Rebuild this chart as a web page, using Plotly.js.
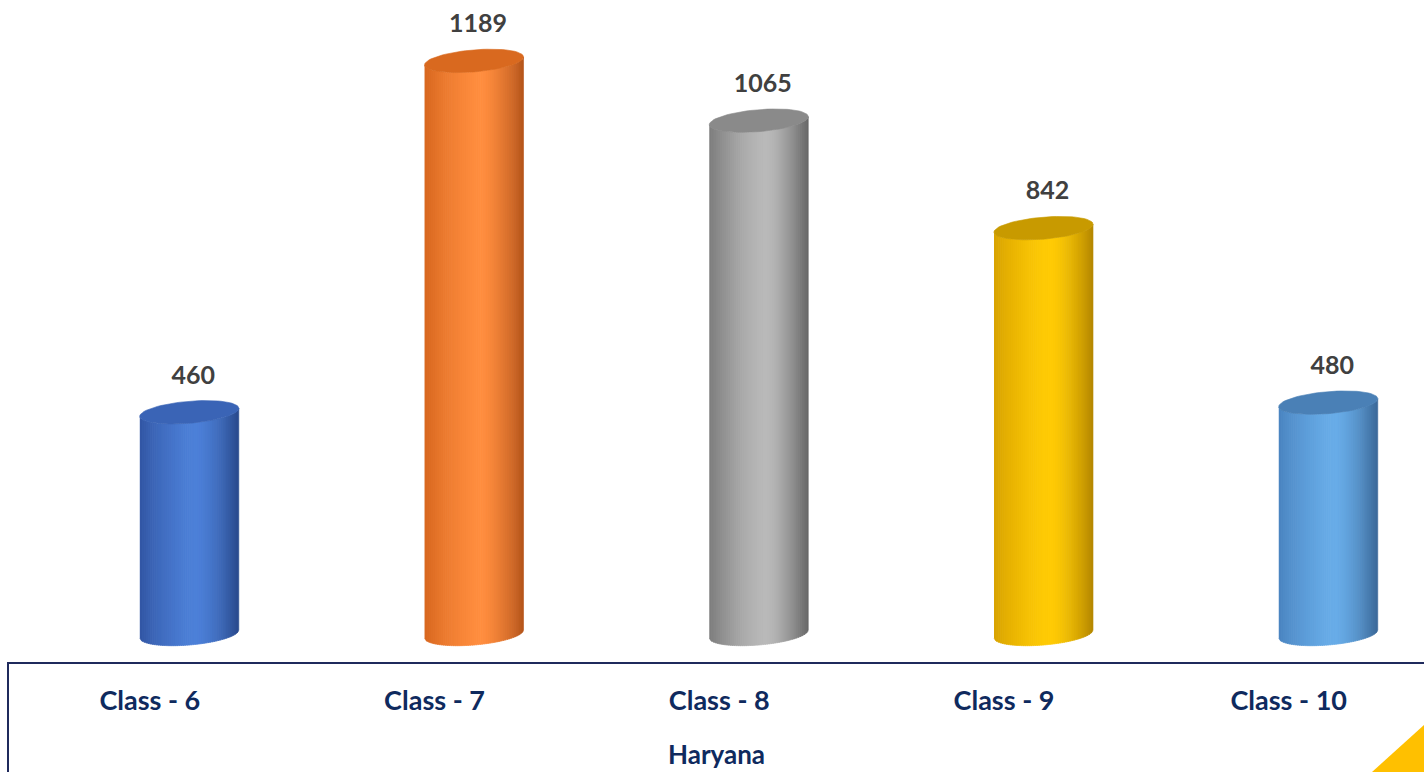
<!DOCTYPE html>
<html>
<head>
<meta charset="utf-8">
<script src="https://cdn.plot.ly/plotly-3.0.1.min.js"></script>
<style>html,body{margin:0;padding:0;background:#fff;}#chart{width:1424px;height:772px;}</style>
</head>
<body>
<div id="chart"></div>
<script>
// ---- data ----
const categories = ['Class - 6', 'Class - 7', 'Class - 8', 'Class - 9', 'Class - 10'];
const values = [460, 1189, 1065, 842, 480];
const groupLabel = 'Haryana';
const highlightColors = ['#4c80d8', '#ff8d3e', '#b9b9b9', '#ffcb05', '#68ace8'];
const leftEdgeColors  = ['#3256a4', '#d8671f', '#7c7c7c', '#d8a200', '#4a84c0'];
const rightEdgeColors = ['#29498c', '#b4541a', '#666666', '#b48700', '#3a6898'];
const topColors       = ['#3a64b6', '#d9691f', '#8a8a8a', '#c89a00', '#4a80b6'];

// ---- geometry (pixels -> data units) ----
const PX_X = 284.75;   // px per category unit
const PX_Y = 0.482;    // px per value unit
const OFFSET = 39.5 / PX_X;   // 3D depth shift of the cylinders
const RX = 49.5 / PX_X;       // cylinder radius in x units
const MINOR = 11;           // ellipse half height (px)
const SHEAR = 4;            // ellipse tilt (px at the rim)
const NSTRIP = 48;

function hexToRgb(h){h=h.replace('#','');return [parseInt(h.substr(0,2),16),parseInt(h.substr(2,2),16),parseInt(h.substr(4,2),16)];}
function mix(a,b,t){const A=hexToRgb(a),B=hexToRgb(b);return 'rgb('+A.map((v,i)=>Math.round(v+(B[i]-v)*t)).join(',')+')';}
function shade(i,u){
  const h=0.15;
  if(u<h){const t=(h-u)/(1+h);return mix(highlightColors[i],leftEdgeColors[i],Math.pow(t,1.5));}
  const t=(u-h)/(1-h);return mix(highlightColors[i],rightEdgeColors[i],Math.pow(t,1.5));
}
function frontCurve(u){ // px up from ellipse centre along the front (lower) rim
  return -MINOR*Math.sqrt(Math.max(0,1-u*u)) + SHEAR*u;
}

const traces = [];
values.forEach((v,i)=>{
  const cx = i + OFFSET;
  for(let j=0;j<NSTRIP;j++){
    const u0 = -1 + 2*j/NSTRIP;
    const u1 = Math.min(1, u0 + 2/NSTRIP + 0.012);
    const us = [];
    for(let k=0;k<=4;k++) us.push(u0+(u1-u0)*k/4);
    const xs=[],ys=[];
    us.forEach(u=>{xs.push(cx+u*RX);ys.push(frontCurve(u)/PX_Y);});
    us.slice().reverse().forEach(u=>{xs.push(cx+u*RX);ys.push(v+frontCurve(u)/PX_Y);});
    const col = shade(i,(u0+u1)/2);
    traces.push({type:'scatter',mode:'lines',x:xs,y:ys,fill:'toself',fillcolor:col,
      line:{width:0.6,color:col},hoverinfo:'skip',showlegend:false});
  }
  // top ellipse
  const ex=[],ey=[];
  for(let k=0;k<=72;k++){
    const t=2*Math.PI*k/72;
    ex.push(cx+Math.cos(t)*RX);
    ey.push(v+(MINOR*Math.sin(t)+SHEAR*Math.cos(t))/PX_Y);
  }
  traces.push({type:'scatter',mode:'lines',x:ex,y:ey,fill:'toself',fillcolor:topColors[i],
    line:{width:0.6,color:topColors[i]},hoverinfo:'skip',showlegend:false});
});

// value labels
traces.push({type:'scatter',mode:'text',
  x:values.map((v,i)=>i+OFFSET+4/PX_X),
  y:values.map(v=>v+35/PX_Y),
  text:values.map(String),textposition:'middle center',
  textfont:{family:'Lato, "Liberation Sans", sans-serif',size:25,color:'#404040',weight:700},
  hoverinfo:'skip',showlegend:false});

const navy='#1f2a5c';
const layout = {
  width:1424,height:772,
  margin:{l:8,r:0,t:0,b:110},
  paper_bgcolor:'#ffffff',plot_bgcolor:'#ffffff',
  showlegend:false,
  xaxis:{range:[-0.498,4.475],tickvals:categories.map((c,i)=>i),ticktext:categories,
    showgrid:false,zeroline:false,showline:true,linecolor:navy,linewidth:2,ticks:'',
    ticklabelstandoff:14,
    tickfont:{family:'Lato, "Liberation Sans", sans-serif',size:27,color:'#0f2a5e',weight:700},
    fixedrange:true},
  yaxis:{range:[-58.1,1315.3],visible:false,showgrid:false,zeroline:false,fixedrange:true},
  annotations:[{text:groupLabel,xref:'paper',yref:'paper',x:0.5,y:(662-754)/662,
    xanchor:'center',yanchor:'middle',showarrow:false,
    font:{family:'Lato, "Liberation Sans", sans-serif',size:26,color:'#0f2a5e',weight:700}}],
  shapes:[
    {type:'line',xref:'paper',yref:'paper',x0:0,x1:0,y0:0,y1:-0.2,line:{color:navy,width:2}},
    {type:'path',xref:'paper',yref:'paper',
      path:'M '+((1372-8)/1416)+' '+(-110/662)+' L 1 '+(-110/662)+' L 1 '+(-(725-662)/662)+' Z',
      fillcolor:'#ffc000',line:{width:0}}
  ]
};
Plotly.newPlot('chart',traces,layout,{displayModeBar:false,staticPlot:true});
</script>
</body>
</html>
